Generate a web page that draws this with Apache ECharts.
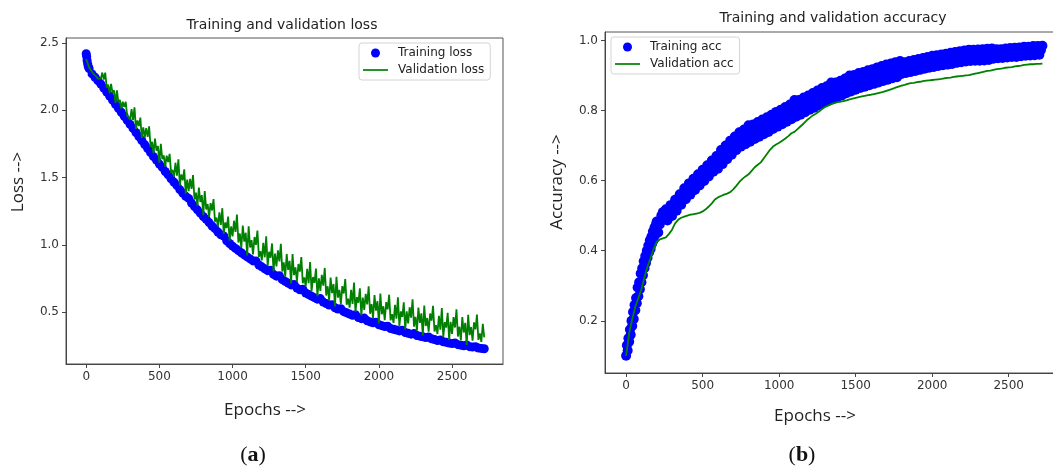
<!DOCTYPE html>
<html><head><meta charset="utf-8">
<script src="https://cdn.jsdelivr.net/npm/echarts@6/dist/echarts.min.js"></script>
<style>html,body{margin:0;padding:0;background:#fff}#c{width:1053px;height:468px}</style>
</head><body><div id="c"></div>
<script>
// ---- data ----
const EPOCH_STEP = 20;        // epoch spacing of the sampled training arrays
const VAL_LOSS_STEP = 10;     // epoch spacing of the validation-loss samples
const xTicks = [0, 500, 1000, 1500, 2000, 2500];
const lossTicks = [0.5, 1.0, 1.5, 2.0, 2.5];
const accTicks = [0.2, 0.4, 0.6, 0.8, 1.0];

const lossStartEpochs = [3, 6, 10, 14];
const trainLossStart = [2.40, 2.37, 2.345, 2.325];

const trainLoss = [
 2.42, 2.31, 2.27, 2.245, 2.22, 2.195, 2.165, 2.135, 2.105, 2.075,
 2.045, 2.015, 1.985, 1.955, 1.925, 1.895, 1.865, 1.835, 1.805, 1.775,
 1.745, 1.715, 1.685, 1.655, 1.63, 1.60, 1.575, 1.545, 1.52, 1.49,
 1.465, 1.44, 1.41, 1.385, 1.36, 1.345, 1.31, 1.285, 1.26, 1.235,
 1.21, 1.19, 1.165, 1.14, 1.12, 1.095, 1.075, 1.065, 1.03, 1.01,
 0.99, 0.973, 0.957, 0.941, 0.925, 0.91, 0.895, 0.88, 0.88, 0.85,
 0.836, 0.822, 0.808, 0.81, 0.78, 0.767, 0.77, 0.741, 0.728, 0.715,
 0.702, 0.705, 0.678, 0.666, 0.67, 0.642, 0.63, 0.618, 0.607, 0.596,
 0.60, 0.574, 0.563, 0.552, 0.555, 0.532, 0.522, 0.525, 0.503, 0.494,
 0.485, 0.476, 0.48, 0.459, 0.451, 0.455, 0.435, 0.427, 0.42, 0.425,
 0.406, 0.399, 0.392, 0.395, 0.378, 0.372, 0.366, 0.36, 0.365, 0.348,
 0.342, 0.336, 0.34, 0.326, 0.321, 0.316, 0.311, 0.315, 0.301, 0.296,
 0.289, 0.292, 0.279, 0.275, 0.27, 0.266, 0.27, 0.258, 0.254, 0.25,
 0.255, 0.243, 0.24, 0.243, 0.233, 0.23, 0.227
];

const valLoss = [
 2.38, 2.35, 2.32, 2.30, 2.29, 2.27, 2.27, 2.25, 2.235, 2.24,
 2.235, 2.28, 2.229, 2.28, 2.169, 2.19, 2.127, 2.196, 2.127, 2.148,
 2.055, 2.148, 2.061, 2.076, 2.013, 2.064, 2.025, 2.064, 1.959, 1.968,
 1.931, 2.009, 1.926, 2.022, 1.862, 1.924, 1.883, 1.945, 1.794, 1.872,
 1.797, 1.867, 1.802, 1.88, 1.729, 1.765, 1.682, 1.789, 1.70, 1.735,
 1.61, 1.751, 1.636, 1.664, 1.581, 1.662, 1.615, 1.676, 1.534, 1.556,
 1.507, 1.61, 1.513, 1.635, 1.441, 1.523, 1.479, 1.561, 1.38, 1.484,
 1.398, 1.49, 1.415, 1.518, 1.337, 1.388, 1.291, 1.426, 1.318, 1.369,
 1.22, 1.399, 1.263, 1.303, 1.207, 1.31, 1.255, 1.34, 1.172, 1.202,
 1.137, 1.242, 1.148, 1.272, 1.081, 1.166, 1.124, 1.209, 1.031, 1.136,
 1.063, 1.179, 1.096, 1.225, 1.017, 1.084, 0.976, 1.143, 1.023, 1.09,
 0.92, 1.138, 0.98, 1.035, 0.928, 1.058, 1.0, 1.105, 0.91, 0.953,
 0.884, 1.014, 0.907, 1.063, 0.843, 0.948, 0.904, 1.01, 0.803, 0.934,
 0.84, 0.958, 0.877, 1.008, 0.801, 0.87, 0.763, 0.932, 0.813, 0.881,
 0.712, 0.931, 0.775, 0.832, 0.726, 0.857, 0.801, 0.908, 0.714, 0.758,
 0.69, 0.821, 0.715, 0.872, 0.653, 0.76, 0.717, 0.824, 0.618, 0.75,
 0.657, 0.777, 0.696, 0.828, 0.623, 0.692, 0.587, 0.757, 0.64, 0.709,
 0.542, 0.762, 0.607, 0.665, 0.56, 0.693, 0.638, 0.746, 0.554, 0.60,
 0.533, 0.666, 0.561, 0.719, 0.502, 0.611, 0.569, 0.677, 0.474, 0.607,
 0.516, 0.636, 0.557, 0.691, 0.487, 0.559, 0.455, 0.627, 0.511, 0.582,
 0.416, 0.638, 0.484, 0.543, 0.44, 0.574, 0.52, 0.629, 0.438, 0.485,
 0.42, 0.554, 0.451, 0.61, 0.395, 0.505, 0.464, 0.573, 0.37, 0.505,
 0.415, 0.536, 0.458, 0.594, 0.391, 0.464, 0.361, 0.534, 0.419, 0.491,
 0.326, 0.549, 0.396, 0.456, 0.354, 0.489, 0.436, 0.546, 0.356, 0.403,
 0.337, 0.472, 0.369, 0.529, 0.314, 0.425, 0.385, 0.495, 0.293, 0.428,
 0.338, 0.462, 0.385, 0.52, 0.318, 0.391, 0.289, 0.462, 0.348, 0.42,
 0.256, 0.479, 0.328, 0.389, 0.288, 0.423, 0.371, 0.482, 0.293, 0.341,
 0.278, 0.413, 0.312
];

const ACC_EARLY_STEP = 5;
const trainAccEarly = [
 0.10, 0.13, 0.115, 0.15, 0.14, 0.175, 0.16, 0.20, 0.185, 0.225,
 0.205, 0.245, 0.23, 0.265, 0.25, 0.295, 0.27, 0.31, 0.29, 0.335,
 0.31, 0.35, 0.33, 0.37, 0.35, 0.385, 0.365, 0.40, 0.38, 0.415,
 0.395, 0.43, 0.405, 0.44, 0.42, 0.455, 0.43, 0.465, 0.445, 0.475
];
// training accuracy at epochs 200, 220, ... 2720
const ACC_MAIN_START = 200;
const trainAcc = [
 0.483, 0.475, 0.51, 0.518, 0.508, 0.499, 0.545, 0.538, 0.531, 0.578,
 0.57, 0.56, 0.605, 0.596, 0.586, 0.631, 0.622, 0.612, 0.657, 0.648,
 0.634, 0.687, 0.674, 0.661, 0.714, 0.70, 0.687, 0.738, 0.722, 0.704,
 0.758, 0.736, 0.719, 0.767, 0.75, 0.732, 0.781, 0.764, 0.747, 0.796,
 0.778, 0.761, 0.81, 0.793, 0.775, 0.83, 0.806, 0.788, 0.837, 0.819,
 0.802, 0.85, 0.833, 0.815, 0.864, 0.846, 0.827, 0.88, 0.856, 0.838,
 0.885, 0.867, 0.849, 0.90, 0.878, 0.859, 0.907, 0.887, 0.868, 0.915,
 0.895, 0.876, 0.923, 0.904, 0.884, 0.931, 0.911, 0.892, 0.938, 0.918,
 0.904, 0.938, 0.924, 0.91, 0.944, 0.93, 0.916, 0.95, 0.936, 0.922,
 0.956, 0.941, 0.927, 0.96, 0.946, 0.931, 0.965, 0.95, 0.936, 0.969,
 0.955, 0.94, 0.973, 0.957, 0.942, 0.974, 0.959, 0.943, 0.976, 0.961,
 0.948, 0.975, 0.962, 0.95, 0.977, 0.965, 0.953, 0.979, 0.967, 0.955,
 0.982, 0.969, 0.957, 0.984, 0.971, 0.959, 0.985
];
// training accuracy at the in-between epochs 210, 230, ... 2710
const ACC_MID_START = 210;
const trainAccMid = [
 0.452, 0.50, 0.495, 0.486, 0.53, 0.522, 0.514, 0.561, 0.554, 0.547,
 0.592, 0.582, 0.573, 0.618, 0.608, 0.599, 0.644, 0.634, 0.625, 0.67,
 0.66, 0.647, 0.70, 0.687, 0.674, 0.726, 0.712, 0.697, 0.746, 0.728,
 0.711, 0.76, 0.743, 0.725, 0.774, 0.756, 0.739, 0.788, 0.771, 0.754,
 0.802, 0.785, 0.768, 0.817, 0.799, 0.782, 0.83, 0.812, 0.795, 0.843,
 0.826, 0.808, 0.857, 0.839, 0.822, 0.869, 0.851, 0.832, 0.88, 0.861,
 0.843, 0.891, 0.872, 0.854, 0.901, 0.883, 0.864, 0.91, 0.891, 0.872,
 0.918, 0.899, 0.88, 0.927, 0.907, 0.888, 0.934, 0.915, 0.895, 0.941,
 0.921, 0.907, 0.941, 0.927, 0.913, 0.947, 0.933, 0.919, 0.953, 0.939,
 0.924, 0.958, 0.943, 0.929, 0.962, 0.948, 0.933, 0.967, 0.952, 0.938,
 0.971, 0.956, 0.941, 0.973, 0.958, 0.942, 0.975, 0.959, 0.944, 0.977,
 0.961, 0.949, 0.975, 0.963, 0.951, 0.978, 0.966, 0.953, 0.98, 0.968,
 0.956, 0.982, 0.97, 0.958, 0.984, 0.972
];

const valAcc = [
 0.10, 0.165, 0.205, 0.24, 0.265, 0.29, 0.325, 0.355, 0.38, 0.405,
 0.425, 0.432, 0.435, 0.438, 0.448, 0.46, 0.478, 0.488, 0.494, 0.497,
 0.50, 0.503, 0.504, 0.506, 0.508, 0.512, 0.518, 0.526, 0.535, 0.546,
 0.552, 0.556, 0.56, 0.563, 0.567, 0.575, 0.585, 0.596, 0.605, 0.612,
 0.618, 0.628, 0.638, 0.645, 0.652, 0.664, 0.676, 0.688, 0.697, 0.703,
 0.708, 0.714, 0.72, 0.727, 0.735, 0.739, 0.747, 0.755, 0.763, 0.772,
 0.779, 0.786, 0.791, 0.797, 0.804, 0.81, 0.814, 0.818, 0.821, 0.824,
 0.825, 0.827, 0.829, 0.832, 0.834, 0.836, 0.838, 0.84, 0.842, 0.844,
 0.845, 0.847, 0.849, 0.851, 0.853, 0.856, 0.859, 0.862, 0.865, 0.868,
 0.871, 0.873, 0.876, 0.878, 0.879, 0.881, 0.882, 0.884, 0.885, 0.886,
 0.887, 0.888, 0.889, 0.890, 0.892, 0.893, 0.894, 0.896, 0.897, 0.898,
 0.899, 0.90, 0.901, 0.903, 0.905, 0.907, 0.909, 0.911, 0.913, 0.914,
 0.916, 0.918, 0.919, 0.92, 0.922, 0.923, 0.924, 0.926, 0.927, 0.928,
 0.93, 0.931, 0.932, 0.932, 0.933, 0.933, 0.934
];

// ---- chart ----
function pairs(arr, start, step) { return arr.map((v, i) => [start + i * step, v]); }

const tickFont = {fontFamily: 'DejaVu Sans', fontSize: 12, color: '#333'};
const axisCol = '#444';

function xAx(grid) {
  return {
    gridIndex: grid, type: 'value', min: -138, max: 2848,
    axisLine: {show: true, onZero: false, lineStyle: {color: axisCol}},
    axisTick: {show: true, customValues: xTicks, length: 4, lineStyle: {color: axisCol}},
    axisLabel: Object.assign({customValues: xTicks, margin: 7, formatter: v => String(Math.round(v))}, tickFont),
    splitLine: {show: false}
  };
}
function yAx(grid, min, max, ticks) {
  return {
    gridIndex: grid, type: 'value', min: min, max: max,
    axisLine: {show: true, onZero: false, lineStyle: {color: axisCol}},
    axisTick: {show: true, customValues: ticks, length: 4, lineStyle: {color: axisCol}},
    axisLabel: Object.assign({customValues: ticks, margin: 7, formatter: v => Number(v).toFixed(1)}, tickFont),
    splitLine: {show: false}
  };
}
const legendBase = {
  orient: 'vertical', itemWidth: 25, itemHeight: 9, itemGap: 5,
  padding: [4, 6, 4, 4], borderColor: '#d4d4d4', borderWidth: 1, borderRadius: 3,
  backgroundColor: 'rgba(255,255,255,0.8)', selectedMode: false,
  textStyle: {fontFamily: 'DejaVu Sans', fontSize: 12, color: '#222', padding: [0, 0, 0, 5]}
};
const lineIcon = 'path://M0,0L25,0L25,1.7L0,1.7Z';
const nameFont = {fontFamily: 'Open Sans', fontSize: 17, fill: '#222'};
const panelRich = {
  p: {fontFamily: 'Liberation Serif', fontSize: 22, fill: '#111'},
  b: {fontFamily: 'Liberation Serif', fontSize: 22, fontWeight: 'bold', fill: '#111'}
};

const chart = echarts.init(document.getElementById('c'), null, {renderer: 'canvas'});
chart.setOption({
  animation: false,
  backgroundColor: '#fff',
  grid: [
    {left: 66, top: 38, width: 437, height: 326, show: true, borderColor: '#555', borderWidth: 1, outerBoundsMode: 'none', containLabel: false},
    {left: 605, top: 32, width: 457, height: 341, show: true, borderColor: '#555', borderWidth: 1, outerBoundsMode: 'none', containLabel: false}
  ],
  xAxis: [xAx(0), xAx(1)],
  yAxis: [yAx(0, 0.114, 2.537, lossTicks), yAx(1, 0.051, 1.024, accTicks)],
  legend: [
    Object.assign({}, legendBase, {data: [{name: 'Training loss', icon: 'circle'}, {name: 'Validation loss', icon: lineIcon}], left: 359, top: 43}),
    Object.assign({}, legendBase, {data: [{name: 'Training acc', icon: 'circle'}, {name: 'Validation acc', icon: lineIcon}], left: 611, top: 37})
  ],
  series: [
    {type: 'scatter', name: 'Training loss', xAxisIndex: 0, yAxisIndex: 0, symbolSize: 9, z: 2,
     itemStyle: {color: '#0000ff', opacity: 1},
     data: pairs(trainLoss, 0, EPOCH_STEP).concat(lossStartEpochs.map((e, i) => [e, trainLossStart[i]]))},
    {type: 'line', name: 'Validation loss', xAxisIndex: 0, yAxisIndex: 0, symbol: 'none', z: 3,
     lineStyle: {color: '#008000', width: 1.8}, itemStyle: {color: '#008000'},
     data: pairs(valLoss, 0, VAL_LOSS_STEP)},
    {type: 'scatter', name: 'Training acc', xAxisIndex: 1, yAxisIndex: 1, symbolSize: 10, z: 2,
     itemStyle: {color: '#0000ff', opacity: 1},
     data: pairs(trainAccEarly, 0, ACC_EARLY_STEP)
       .concat(pairs(trainAcc, ACC_MAIN_START, EPOCH_STEP))
       .concat(pairs(trainAccMid, ACC_MID_START, EPOCH_STEP))},
    {type: 'line', name: 'Validation acc', xAxisIndex: 1, yAxisIndex: 1, symbol: 'none', z: 3,
     lineStyle: {color: '#008000', width: 1.8}, itemStyle: {color: '#008000'},
     data: pairs(valAcc, 0, EPOCH_STEP)}
  ],
  graphic: [
    {type: 'text', x: 282, y: 25, style: {text: 'Training and validation loss', align: 'center', verticalAlign: 'middle', fontFamily: 'DejaVu Sans', fontSize: 14, fill: '#222'}},
    {type: 'text', x: 833, y: 18, style: {text: 'Training and validation accuracy', align: 'center', verticalAlign: 'middle', fontFamily: 'DejaVu Sans', fontSize: 14, fill: '#222'}},
    {type: 'text', x: 265, y: 410, style: Object.assign({text: 'Epochs -->', align: 'center', verticalAlign: 'middle'}, nameFont)},
    {type: 'text', x: 815, y: 416, style: Object.assign({text: 'Epochs -->', align: 'center', verticalAlign: 'middle'}, nameFont)},
    {type: 'text', x: 18, y: 182, rotation: Math.PI / 2, style: Object.assign({text: 'Loss -->', align: 'center', verticalAlign: 'middle'}, nameFont)},
    {type: 'text', x: 557, y: 182, rotation: Math.PI / 2, style: Object.assign({text: 'Accuracy -->', align: 'center', verticalAlign: 'middle'}, nameFont)},
    {type: 'text', x: 253, y: 455, style: {text: '{p|(}{b|a}{p|)}', align: 'center', verticalAlign: 'middle', rich: panelRich}},
    {type: 'text', x: 802, y: 455, style: {text: '{p|(}{b|b}{p|)}', align: 'center', verticalAlign: 'middle', rich: panelRich}}
  ]
});
</script>
</body></html>
